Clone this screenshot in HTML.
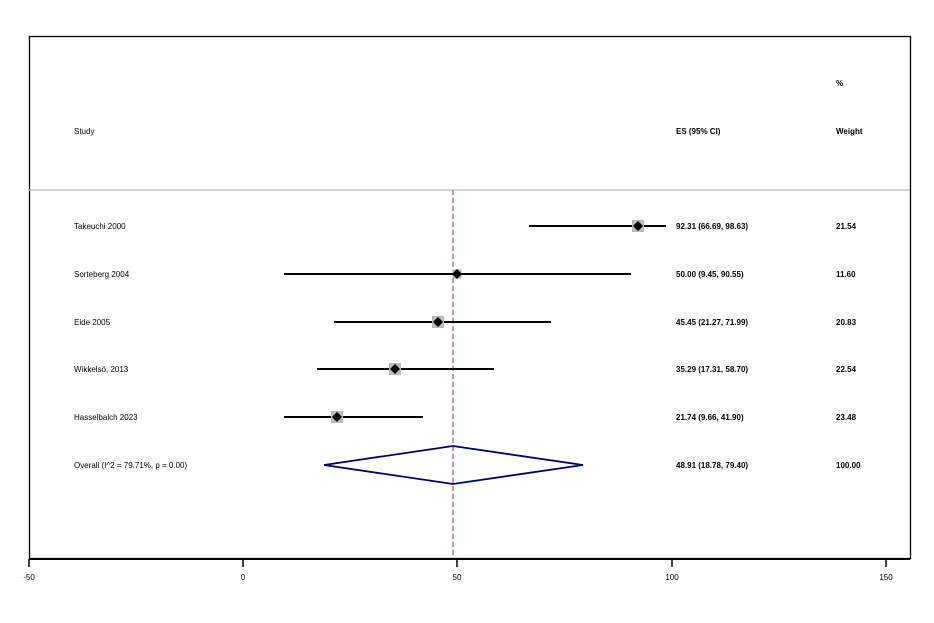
<!DOCTYPE html>
<html><head><style>body{margin:0;background:#fff}svg{display:block}text{font-family:"Liberation Sans",Arial,sans-serif;font-size:8px;fill:#000}.b{font-weight:bold}</style></head>
<body>
<svg width="934" height="623" viewBox="0 0 934 623">
<rect x="29.5" y="36.5" width="881" height="522" fill="none" stroke="#000" stroke-width="1.3"/>
<line x1="29" y1="190" x2="910" y2="190" stroke="#bbb" stroke-width="1.3"/>
<line x1="29" y1="559" x2="910" y2="559" stroke="#000" stroke-width="2"/>
<g stroke="#000" stroke-width="1.5">
<line x1="29" y1="559" x2="29" y2="567"/><line x1="243" y1="559" x2="243" y2="567"/><line x1="457" y1="559" x2="457" y2="567"/><line x1="672" y1="559" x2="672" y2="567"/><line x1="886" y1="559" x2="886" y2="567"/></g>
<g text-anchor="middle"><text x="29" y="580">-50</text><text x="243" y="580">0</text><text x="457" y="580">50</text><text x="672" y="580">100</text><text x="886" y="580">150</text></g>
<line x1="453" y1="190" x2="453" y2="558" stroke="#b06070" stroke-width="1.3" stroke-dasharray="5,3"/>
<text class="b" x="836" y="86">%</text>
<text x="74" y="134">Study</text><text class="b" x="676" y="134">ES (95% CI)</text><text class="b" x="836" y="134">Weight</text>
<g stroke="#000" stroke-width="2">
<line x1="529" y1="226" x2="666" y2="226"/><line x1="284" y1="274" x2="631" y2="274"/><line x1="334" y1="322" x2="551" y2="322"/><line x1="317" y1="369" x2="494" y2="369"/><line x1="284" y1="417" x2="423" y2="417"/></g>
<g fill="#bbb">
<rect x="632" y="220" width="12" height="12"/><rect x="452.5" y="269.5" width="9" height="9"/><rect x="432" y="316" width="12" height="12"/><rect x="389" y="363" width="12" height="12"/><rect x="331" y="411" width="12" height="12"/></g>
<g fill="#000">
<path d="M638 221l5 5-5 5-5-5z"/><path d="M457 269l5 5-5 5-5-5z"/><path d="M438 317l5 5-5 5-5-5z"/><path d="M395 364l5 5-5 5-5-5z"/><path d="M337 412l5 5-5 5-5-5z"/></g>
<path d="M324 465L453 446L583 465L453 484Z" fill="none" stroke="#000070" stroke-width="1.8"/>
<text x="74" y="229">Takeuchi 2000</text><text x="74" y="277">Sorteberg 2004</text><text x="74" y="325">Eide 2005</text><text x="74" y="372">Wikkelsö, 2013</text><text x="74" y="420">Hasselbalch 2023</text><text x="74" y="468">Overall  (I^2 = 79.71%, p = 0.00)</text>
<g class="b">
<text x="676" y="229">92.31 (66.69, 98.63)</text><text x="676" y="277">50.00 (9.45, 90.55)</text><text x="676" y="325">45.45 (21.27, 71.99)</text><text x="676" y="372">35.29 (17.31, 58.70)</text><text x="676" y="420">21.74 (9.66, 41.90)</text><text x="676" y="468">48.91 (18.78, 79.40)</text>
<text x="836" y="229">21.54</text><text x="836" y="277">11.60</text><text x="836" y="325">20.83</text><text x="836" y="372">22.54</text><text x="836" y="420">23.48</text><text x="836" y="468">100.00</text>
</g>
</svg>
</body></html>
